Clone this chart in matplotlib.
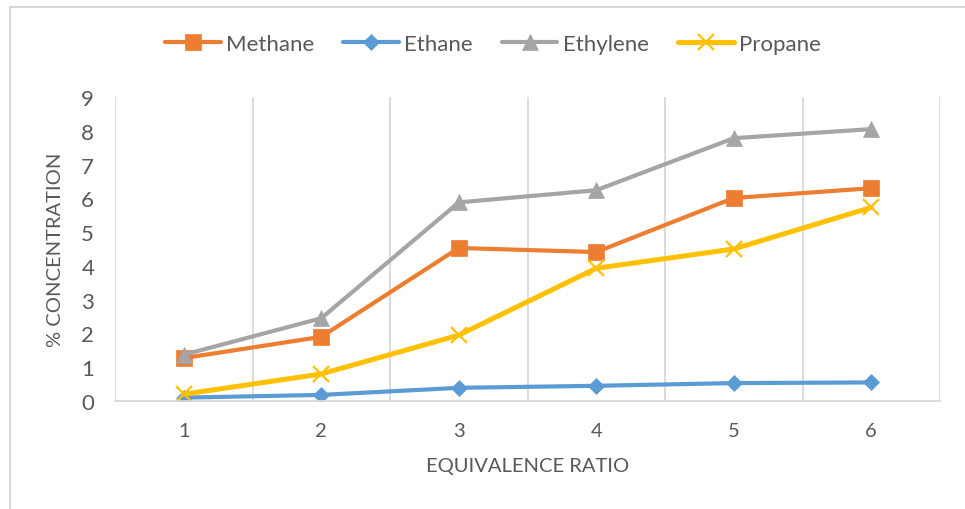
import matplotlib
matplotlib.use("Agg")
import matplotlib.pyplot as plt
from matplotlib.patches import Rectangle
import numpy as np

plt.rcParams['font.family'] = ['Lato', 'DejaVu Sans']

# Data
ratios = ["1", "2", "3", "4", "5", "6"]
methane = [1.27, 1.90, 4.53, 4.41, 6.01, 6.30]
ethane = [0.10, 0.18, 0.39, 0.45, 0.53, 0.55]
ethylene = [1.37, 2.45, 5.88, 6.24, 7.78, 8.05]
propane = [0.20, 0.80, 1.95, 3.93, 4.50, 5.73]

TEXT = "#595959"
GRID = "#D9D9D9"

fig = plt.figure(figsize=(9.65, 5.10), dpi=100)
ax = fig.add_axes([115 / 965, 1 - 402 / 510, 825 / 965, 304 / 510])

x = np.arange(len(ratios))
series = [
    ("Methane", methane, "#ED7D31", "s", 12, 3.0),
    ("Ethane", ethane, "#5B9BD5", "D", 8.5, 3.0),
    ("Ethylene", ethylene, "#A5A5A5", "^", 12, 3.0),
    ("Propane", propane, "#FFC000", "x", 12, 3.6),
]
handles = []
for name, vals, col, mk, ms, lw in series:
    kw = dict(color=col, lw=lw, marker=mk, markersize=ms, markerfacecolor=col,
              markeredgecolor=col, label=name, solid_capstyle="round")
    if mk == "x":
        kw["markeredgewidth"] = 1.6
    else:
        kw["markeredgewidth"] = 0.5
    h, = ax.plot(x, vals, **kw)
    handles.append(h)

ax.set_xlim(-0.5, len(ratios) - 0.5)
ax.set_ylim(0, 9)
ax.set_xticks(x)
ax.set_xticklabels(ratios)
ax.set_yticks(range(0, 10))
ax.set_xticks(np.arange(-0.5, len(ratios)), minor=True)
ax.grid(which="minor", axis="x", color=GRID, lw=1.3)
ax.grid(which="major", visible=False)
ax.tick_params(which="both", length=0)
ax.tick_params(axis="y", pad=15, labelsize=16, labelcolor=TEXT)
ax.tick_params(axis="x", pad=15, labelsize=14.5, labelcolor=TEXT)
for s in ("top", "left", "right"):
    ax.spines[s].set_visible(False)
ax.spines["bottom"].set_color(GRID)
ax.spines["bottom"].set_linewidth(1.3)
ax.set_axisbelow(True)

ax.set_xlabel("EQUIVALENCE RATIO", fontsize=14.5, color=TEXT, labelpad=13)
ax.set_ylabel("% CONCENTRATION", fontsize=14.5, color=TEXT, labelpad=12)

fig.legend(handles=handles, loc="center", bbox_to_anchor=(493 / 965, 1 - 45 / 510),
           ncol=4, frameon=False, fontsize=16, labelcolor=TEXT, handlelength=2.5,
           handletextpad=0.25, columnspacing=1.3)

# chart frame
fig.patches.append(Rectangle((10 / 965, -0.1), 1.5, 1.1 - 8 / 510,
                             transform=fig.transFigure, fill=False,
                             ec=GRID, lw=1.5))

fig.savefig("out.png", dpi=100)
